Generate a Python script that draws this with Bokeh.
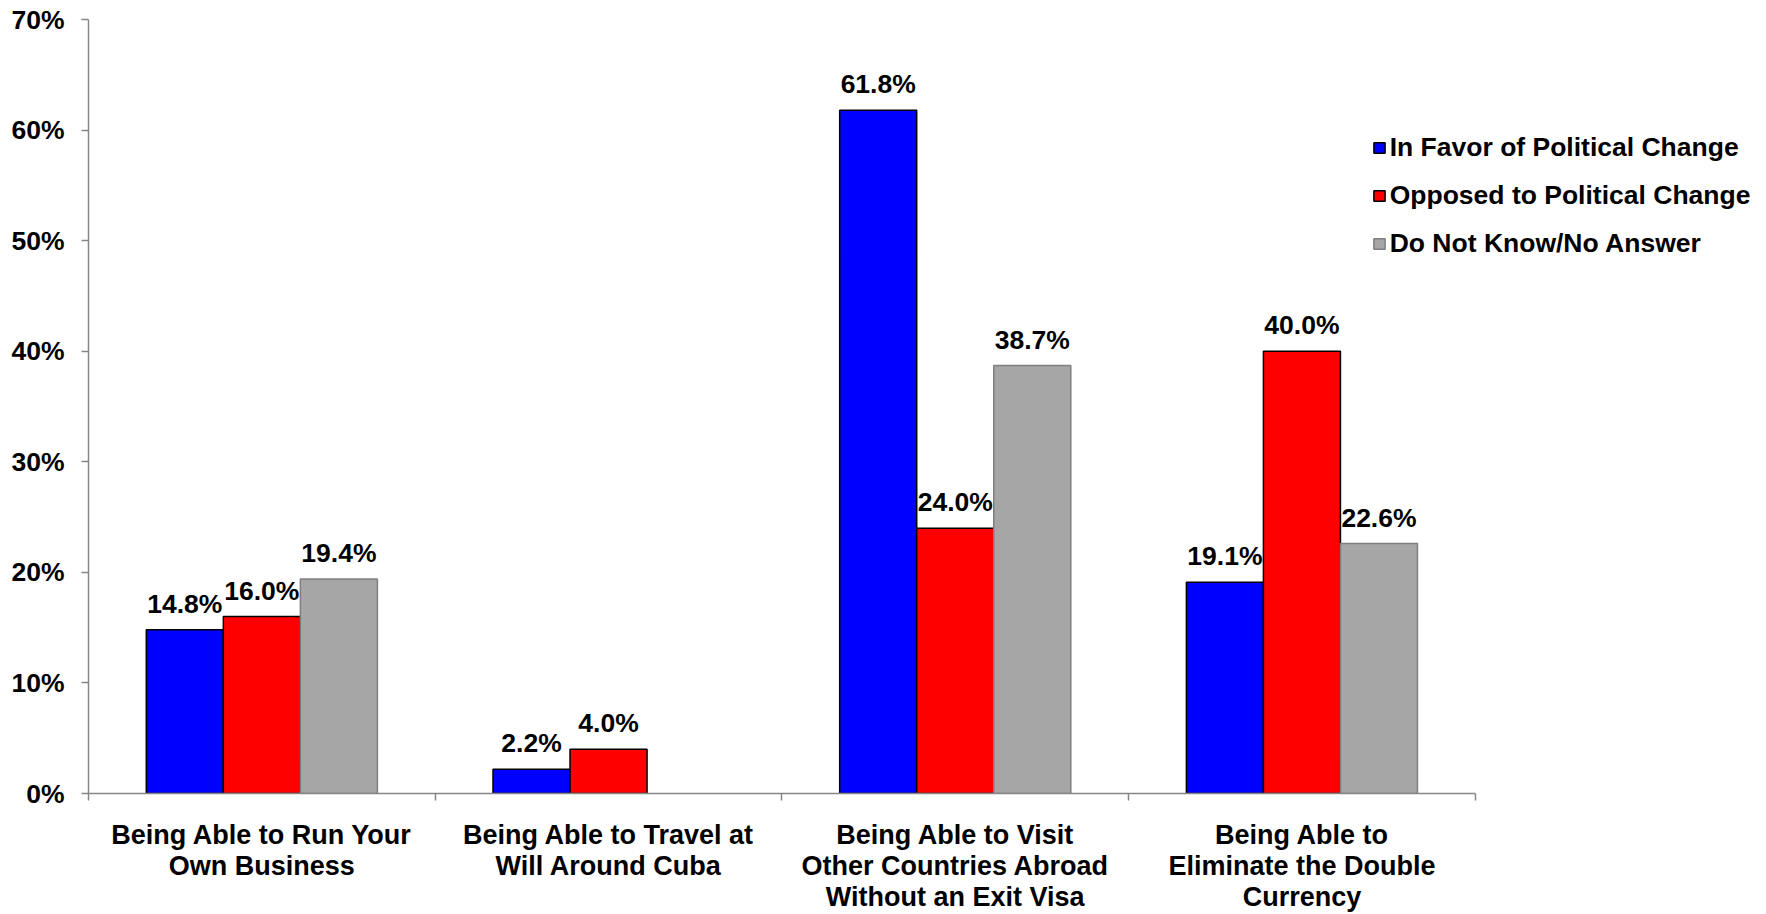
from bokeh.plotting import figure
from bokeh.models import (ColumnDataSource, Range1d, FixedTicker, PrintfTickFormatter,
                          Legend, LegendItem, LabelSet)
from bokeh.transform import dodge
from bokeh.core.properties import value
from bokeh.embed import file_html
from bokeh.resources import INLINE

categories = [
    "Being Able to Run Your\nOwn Business",
    "Being Able to Travel at\nWill Around Cuba",
    "Being Able to Visit\nOther Countries Abroad\nWithout an Exit Visa",
    "Being Able to\nEliminate the Double\nCurrency",
]
series_names = ["In Favor of Political Change", "Opposed to Political Change", "Do Not Know/No Answer"]
in_favor = [14.8, 2.2, 61.8, 19.1]
opposed = [16.0, 4.0, 24.0, 40.0]
dont_know = [19.4, None, 38.7, 22.6]
y_ticks = [0, 10, 20, 30, 40, 50, 60, 70]

colors = ["#0000FF", "#FF0000", "#A6A6A6"]
outlines = ["#000000", "#000000", "#7F7F7F"]
FONT = "Liberation Sans"
AXIS_COL = "#868686"

p = figure(width=1766, height=914, output_backend="svg", toolbar_location=None,
           x_range=Range1d(0, 4.84), y_range=Range1d(0, 70),
           min_border_left=88, min_border_right=0, min_border_top=19, min_border_bottom=120)
p.outline_line_color = None
p.xgrid.visible = False
p.ygrid.visible = False
p.background_fill_color = "white"
p.border_fill_color = "white"

bw = 0.2222
offsets = [-bw, 0.0, bw]
items = []
for vals, name, col, oc, off in zip([in_favor, opposed, dont_know], series_names, colors, outlines, offsets):
    xs = [i + 0.5 for i, v in enumerate(vals) if v is not None]
    ys = [v for v in vals if v is not None]
    src = ColumnDataSource(dict(x=xs, top=ys, lab=[f"{v:.1f}%" for v in ys]))
    r = p.vbar(x=dodge("x", off), top="top", width=bw, bottom=0, source=src,
               fill_color=col, line_color=oc, line_width=1.5)
    labels = LabelSet(x=dodge("x", off), y="top", text="lab", source=src,
                      text_font=value(FONT), text_font_style="bold", text_font_size="26.5px",
                      text_align="center", text_baseline="alphabetic", y_offset=17,
                      text_color="black")
    p.add_layout(labels)
    items.append(LegendItem(label=name, renderers=[r]))

# y axis
ya = p.yaxis[0]
ya.ticker = FixedTicker(ticks=y_ticks)
ya.formatter = PrintfTickFormatter(format="%d%%")
ya.axis_line_color = AXIS_COL
ya.axis_line_width = 1.5
ya.major_tick_line_color = AXIS_COL
ya.major_tick_line_width = 1.5
ya.major_tick_out = 7
ya.major_tick_in = 0
ya.minor_tick_line_color = None
ya.major_label_standoff = 17
ya.major_label_text_font = FONT
ya.major_label_text_font_style = "bold"
ya.major_label_text_font_size = "26.5px"
ya.major_label_text_color = "black"

# x axis: labels at category centres, tick marks at category boundaries
xa = p.xaxis[0]
xa.ticker = FixedTicker(ticks=[i + 0.5 for i in range(len(categories))],
                        minor_ticks=list(range(len(categories) + 1)))
xa.major_label_overrides = {i + 0.5: c for i, c in enumerate(categories)}
xa.bounds = (0, len(categories))
xa.axis_line_color = AXIS_COL
xa.axis_line_width = 1.5
xa.major_tick_line_color = None
xa.major_tick_out = 7
xa.major_tick_in = 0
xa.minor_tick_line_color = AXIS_COL
xa.minor_tick_line_width = 1.5
xa.minor_tick_out = 7
xa.minor_tick_in = 0
xa.major_label_standoff = 19
xa.major_label_text_font = FONT
xa.major_label_text_font_style = "bold"
xa.major_label_text_font_size = "27px"
xa.major_label_text_line_height = 1.035
xa.major_label_text_color = "black"
xa.major_label_text_align = "center"

legend = Legend(items=items, location=(1283.7, 534))
legend.label_text_font = FONT
legend.label_text_font_style = "bold"
legend.label_text_font_size = "26.5px"
legend.label_text_color = "black"
legend.glyph_width = 14
legend.glyph_height = 13
legend.label_height = 30
legend.label_standoff = 4
legend.spacing = 17
legend.padding = 0
legend.margin = 0
legend.border_line_color = None
legend.background_fill_alpha = 0
p.add_layout(legend, "center")

open("out.html", "w").write(file_html(p, INLINE))
